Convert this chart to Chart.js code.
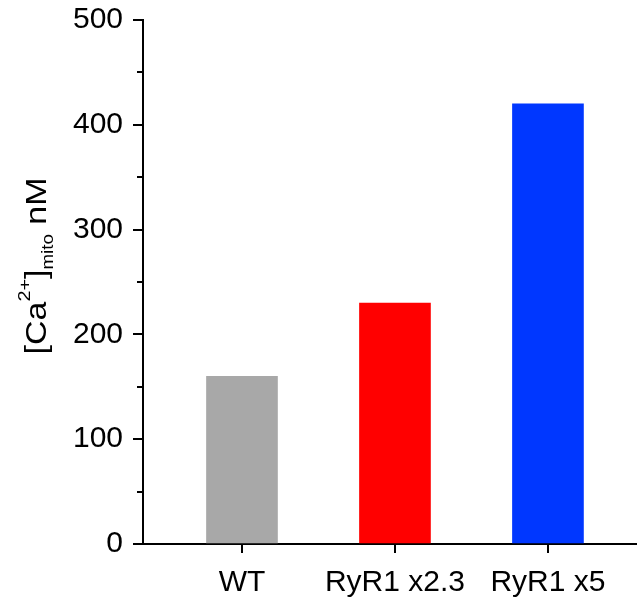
<!DOCTYPE html>
<html>
<head>
<meta charset="utf-8">
<script src="https://cdn.jsdelivr.net/npm/chart.js@4.4.1/dist/chart.umd.min.js"></script>
<style>
  html, body { margin: 0; padding: 0; background: #fff; }
  #wrap { width: 637px; height: 599px; }
</style>
</head>
<body>
<div id="wrap"><canvas id="myChart" width="637" height="599"></canvas></div>
<script>
// data
const categories = ['WT', 'RyR1 x2.3', 'RyR1 x5'];
const categoryPos = [1, 2, 3];
const values = [160, 230, 420];
const barColors = ['#a8a8a8', '#ff0000', '#0037ff'];
const yMajorTicks = [0, 100, 200, 300, 400, 500];
const yMinorTicks = [50, 150, 250, 350, 450];

const FONT = "'Liberation Sans', Arial, sans-serif";

// minor ticks on the y axis (shorter than the labelled ones)
const minorTicks = {
  id: 'minorTicks',
  afterDraw(chart) {
    const ctx = chart.ctx;
    const y = chart.scales.y;
    ctx.save();
    ctx.strokeStyle = '#000';
    ctx.lineWidth = 2;
    yMinorTicks.forEach(v => {
      const py = Math.round(y.getPixelForValue(v));
      ctx.beginPath();
      ctx.moveTo(y.right - 6, py);
      ctx.lineTo(y.right, py);
      ctx.stroke();
    });
    ctx.restore();
  }
};

// y title with superscript and subscript: [Ca2+]mito nM
const yTitle = {
  id: 'yTitle',
  afterDraw(chart) {
    const ctx = chart.ctx;
    const area = chart.chartArea;
    const parts = [
      { t: '[Ca', size: 29, dy: 0 },
      { t: '2+', size: 17, dy: -16 },
      { t: ']', size: 29, dy: 0 },
      { t: 'mito', size: 16, dy: 7 },
      { t: ' nM', size: 29, dy: 0 }
    ];
    ctx.save();
    ctx.fillStyle = '#000';
    ctx.textBaseline = 'alphabetic';
    ctx.textAlign = 'left';
    let total = 0;
    parts.forEach(p => {
      ctx.font = p.size + 'px ' + FONT;
      p.w = ctx.measureText(p.t).width;
      total += p.w;
    });
    ctx.translate(46, (area.top + area.bottom) / 2 - 16);
    ctx.rotate(-Math.PI / 2);
    ctx.scale(1.17, 1);
    let x = -total / 2;
    parts.forEach(p => {
      ctx.font = p.size + 'px ' + FONT;
      ctx.fillText(p.t, x, p.dy);
      x += p.w;
    });
    ctx.restore();
  }
};

const ctx = document.getElementById('myChart').getContext('2d');
new Chart(ctx, {
  type: 'bar',
  data: {
    datasets: [{
      data: categoryPos.map((x, i) => ({ x: x, y: values[i] })),
      backgroundColor: barColors,
      borderWidth: 0,
      barThickness: 71
    }]
  },
  options: {
    responsive: false,
    animation: false,
    layout: { padding: { top: 20, right: 0, bottom: 0, left: 0 } },
    plugins: {
      legend: { display: false },
      tooltip: { enabled: false }
    },
    scales: {
      x: {
        type: 'linear',
        offset: false,
        min: 0.353,
        max: 3.582,
        afterBuildTicks: s => { s.ticks = categoryPos.map(v => ({ value: v })); },
        afterFit: s => { s.height = 55; s.paddingLeft = 0; s.paddingRight = 0; },
        grid: {
          offset: false,
          drawOnChartArea: false,
          drawTicks: true,
          tickLength: 9,
          lineWidth: 2,
          color: '#000'
        },
        border: { display: true, color: '#000', width: 2 },
        ticks: {
          padding: 12,
          color: '#000',
          font: { family: FONT, size: 30 },
          maxRotation: 0,
          autoSkip: false,
          callback: v => categories[categoryPos.indexOf(v)]
        }
      },
      y: {
        min: 0,
        max: 500,
        afterBuildTicks: s => { s.ticks = yMajorTicks.map(v => ({ value: v })); },
        afterFit: s => { s.width = 143; s.paddingTop = 0; s.paddingBottom = 0; },
        grid: {
          drawOnChartArea: false,
          drawTicks: true,
          tickLength: 10,
          lineWidth: 2,
          color: '#000'
        },
        border: { display: true, color: '#000', width: 2 },
        ticks: {
          padding: 10,
          color: '#000',
          font: { family: FONT, size: 30 }
        }
      }
    }
  },
  plugins: [minorTicks, yTitle]
});
</script>
</body>
</html>
